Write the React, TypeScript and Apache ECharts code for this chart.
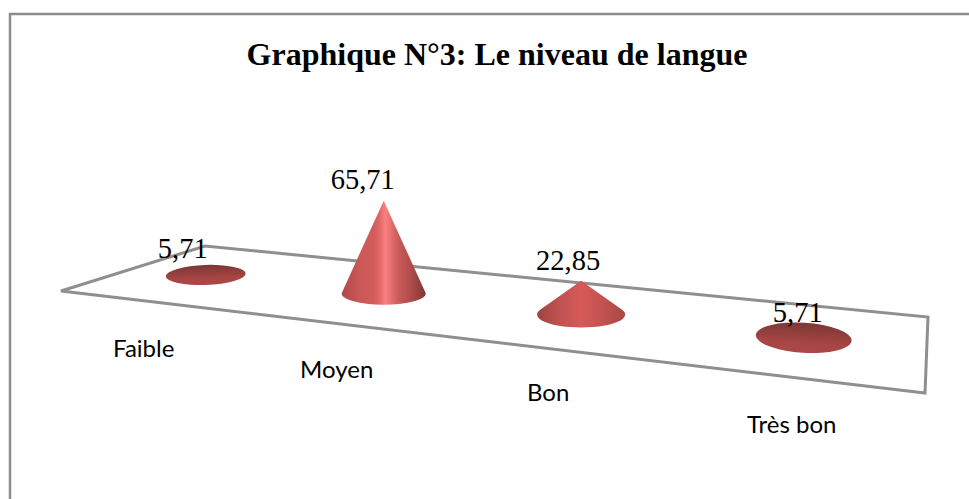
import React, { useEffect, useRef } from "react";
import * as echarts from "echarts";

const titleText = "Graphique N°3: Le niveau de langue";
const categories = ["Faible", "Moyen", "Bon", "Très bon"];
const values = [5.71, 65.71, 22.85, 5.71];

// Floor quadrilateral of the 3D scene (front-left, front-right, back-right, back-left)
const floorFL = [61, 291];
const floorFR = [925, 393];
const floorBR = [928, 317];
const floorBL = [205, 246];

const coneDx = [-14, -10, -7, -3];
const coneRx = [40, 42, 44, 48];
const coneRy = [10, 11, 13, 15];
const coneTilt = [-2, 0, 0, 3.5];
const valueDx = [-23, -21, -13, -6];
const valueDy = [-19, -21, -20, -16];
const catDx = [-62, -47, -33, -12];
const catDy = [72, 75, 77, 86];
const GRID_W = 400;
const HEIGHT_K = 29.7;

function project(s: number, t: number) {
  const [x0, y0] = floorFL, [x1, y1] = floorFR, [x2, y2] = floorBR, [x3, y3] = floorBL;
  const dx1 = x1 - x2, dx2 = x3 - x2, sx = x0 - x1 + x2 - x3;
  const dy1 = y1 - y2, dy2 = y3 - y2, sy = y0 - y1 + y2 - y3;
  const den = dx1 * dy2 - dx2 * dy1;
  const g = (sx * dy2 - dx2 * sy) / den;
  const h = (dx1 * sy - sx * dy1) / den;
  const a = x1 - x0 + g * x1, b = x3 - x0 + h * x3, c = x0;
  const d = y1 - y0 + g * y1, e = y3 - y0 + h * y3, f = y0;
  const w = g * s + h * t + 1;
  return [(a * s + b * t + c) / w, (d * s + e * t + f) / w];
}

const steepStops = [
  [0, "#b04a48"], [0.2, "#c95856"], [0.38, "#d25c5a"], [0.45, "#e06866"], [0.52, "#fb8080"],
  [0.58, "#e87070"], [0.68, "#c85a58"], [0.82, "#b04d4b"], [1, "#7e3635"],
];
const midStops = [
  [0, "#9e4341"], [0.25, "#c05250"], [0.5, "#d65a58"], [0.75, "#c25250"], [1, "#ab4846"],
];
const flatStops = [
  [0, "#7c3635"], [0.3, "#8f3e3c"], [0.65, "#a64543"], [1, "#aa4947"],
];

function toStops(list: any[]) {
  return list.map(([offset, color]) => ({ offset, color }));
}

function renderCone(params: any, api: any) {
  const i = api.value(0);
  const v = api.value(1);
  const px = api.coord([i, 0]);
  const py = api.coord([i, v]);
  const [fx, cy] = project(px[0] / GRID_W, 0.5);
  const cx = fx + coneDx[i];
  const rx = coneRx[i];
  const ry = coneRy[i];
  const h = (px[1] - py[1]) * (rx / HEIGHT_K);
  const ax = cx;
  const ay = cy - h;
  let d: string;
  let fill: any;
  if (h <= ry * 1.05) {
    d = `M${cx - rx} ${cy}A${rx} ${ry} 0 1 1 ${cx + rx} ${cy}A${rx} ${ry} 0 1 1 ${cx - rx} ${cy}Z`;
    fill = new echarts.graphic.LinearGradient(0, 0, 0, 1, toStops(flatStops));
  } else {
    const ty = cy - (ry * ry) / h;
    const tx = rx * Math.sqrt(1 - (ry * ry) / (h * h));
    d = `M${ax} ${ay}L${cx + tx} ${ty}A${rx} ${ry} 0 1 1 ${cx - tx} ${ty}Z`;
    fill = new echarts.graphic.LinearGradient(0, 0, 1, 0, toStops(h / ry > 4 ? steepStops : midStops));
  }
  return {
    type: "group",
    children: [
      {
        type: "path",
        shape: { pathData: d },
        rotation: (-coneTilt[i] * Math.PI) / 180,
        originX: cx,
        originY: cy,
        style: { fill, stroke: "none" },
      },
      {
        type: "text",
        z2: 5,
        style: {
          text: String(v).replace(".", ","),
          x: ax + valueDx[i],
          y: ay + valueDy[i],
          align: "center",
          verticalAlign: "middle",
          fontFamily: "Liberation Serif",
          fontSize: 28.5,
          fill: "#000",
        },
      },
      {
        type: "text",
        z2: 5,
        style: {
          text: categories[i],
          x: cx + catDx[i],
          y: cy + catDy[i],
          align: "center",
          verticalAlign: "middle",
          fontFamily: "Lato",
          fontSize: 24,
          fill: "#000",
        },
      },
    ],
  };
}

export default function App() {
  const ref = useRef<HTMLDivElement>(null);
  useEffect(() => {
    const chart = echarts.init(ref.current!, undefined, { renderer: "svg" });
    chart.setOption({
      animation: false,
      backgroundColor: "#fff",
      title: {
        text: titleText,
        left: 492,
        top: 33,
        textAlign: "center",
        textStyle: { fontFamily: "Liberation Serif", fontWeight: "bold", fontSize: 32, color: "#000" },
      },
      grid: { left: 0, width: GRID_W, top: 100, height: 100 },
      xAxis: { type: "category", data: categories, show: false },
      yAxis: { type: "value", min: 0, max: 100, show: false },
      graphic: [
        {
          type: "polyline",
          z: 0,
          shape: { points: [[10, 499], [10, 14], [969, 14]] },
          style: { fill: "none", stroke: "#8c8c8c", lineWidth: 2.5 },
        },
        {
          type: "polygon",
          z: 0,
          shape: { points: [floorFL, floorFR, floorBR, floorBL] },
          style: { fill: "none", stroke: "#8f8f8f", lineWidth: 3 },
        },
      ],
      series: [
        {
          type: "custom",
          coordinateSystem: "cartesian2d",
          clip: false,
          renderItem: renderCone,
          encode: { x: 0, y: 1 },
          data: values.map((v, i) => [i, v]),
        },
      ],
    });
    return () => chart.dispose();
  }, []);
  return <div ref={ref} style={{ position: "fixed", left: 0, top: 0, width: 969, height: 499 }} />;
}
